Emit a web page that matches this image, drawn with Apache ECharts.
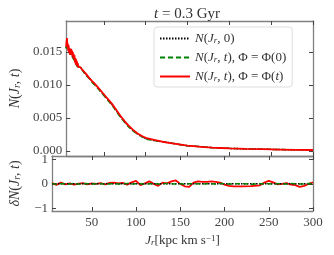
<!DOCTYPE html>
<html><head><meta charset="utf-8">
<script src="https://cdn.jsdelivr.net/npm/echarts@6/dist/echarts.min.js"></script>
<style>html,body{margin:0;padding:0;background:#fff}#c{width:334px;height:255px}</style>
</head><body><div id="c"></div>
<script>
// ---- data ----
const jTop = [5,5.5,6,6.5,7,7.5,8,8.5,9,9.5,10,10.5,11,11.5,12,12.5,13,13.5,14,14.5,15,15.5,16,16.5,17,17.5,18,18.5,19,19.5,20,
  21,22,23,24,25,26,28,30,33,36,40,44,48,52,56,60,65,70,75,80,85,90,95,100,110,120,130,140,150,160,170,180,190,200,220,240,260,280,300];
const nPhiT = [0.0158,0.0166,0.0171,0.0157,0.0163,0.0152,0.0160,0.0149,0.0156,0.0146,0.0153,0.0149,0.0155,0.0146,0.0152,0.0144,0.0150,0.0141,0.0147,0.0139,0.0145,0.0134,0.0141,0.0131,0.0139,0.0130,0.0136,0.0128,0.0133,0.0127,0.0130,
  0.0129,0.0127,0.0126,0.0124,0.0122,0.0121,0.0118,0.0115,0.0110,0.0106,0.0101,0.0095,0.0089,0.0083,0.0077,0.0071,0.0062,0.0053,0.0045,0.0038,0.0032,0.0027,0.0023,0.0020,0.0017,0.0014,0.0012,0.0010,0.0008,0.0007,0.0006,0.0005,0.00045,0.0004,0.00032,0.00027,0.00022,0.00018,0.00015];
const n0 = [0.0156,0.0160,0.0162,0.0158,0.0157,0.0154,0.0155,0.0151,0.0152,0.0148,0.0149,0.0147,0.0149,0.0145,0.0147,0.0143,0.0145,0.0141,0.0143,0.0139,0.0140,0.0136,0.0137,0.0133,0.0135,0.0131,0.0133,0.0129,0.0130,0.0128,0.0129,
  0.0128,0.0126,0.0125,0.0124,0.0122,0.0120,0.0117,0.0114,0.0110,0.0105,0.0100,0.0094,0.0088,0.0082,0.0076,0.0070,0.0061,0.0052,0.0044,0.0037,0.0031,0.0026,0.0022,0.0019,0.0016,0.0014,0.0012,0.0010,0.0008,0.0007,0.0006,0.0005,0.00045,0.0004,0.00032,0.00027,0.00022,0.00018,0.00015];
const nPhi0 = [0.0155,0.0159,0.0161,0.0157,0.0156,0.0153,0.0154,0.0150,0.0151,0.0147,0.0148,0.0146,0.0148,0.0144,0.0146,0.0142,0.0144,0.0140,0.0142,0.0138,0.0139,0.0135,0.0136,0.0132,0.0134,0.0130,0.0132,0.0128,0.0129,0.0127,0.0128,
  0.0127,0.0125,0.0124,0.0123,0.0121,0.0119,0.0116,0.0113,0.0109,0.0104,0.0099,0.0093,0.0087,0.0081,0.0075,0.0069,0.0060,0.0051,0.0043,0.0036,0.0030,0.0026,0.0022,0.0018,0.0016,0.0014,0.0012,0.0010,0.0008,0.0007,0.0006,0.0005,0.00045,0.0004,0.00032,0.00027,0.00022,0.00018,0.00015];
const jRes = [5,10,15,20,25,30,35,40,45,50,55,60,65,70,75,80,85,90,95,100,105,110,115,120,125,130,135,140,145,150,155,160,165,170,175,180,185,190,195,200,205,210,220,230,240,245,250,255,260,265,270,275,280,285,290,295,300];
const dPhiT = [0.03,-0.04,0.05,-0.02,0.02,-0.03,0.01,0.03,-0.02,0.02,0.0,0.03,-0.02,0.04,0.05,0.02,0.04,-0.03,0.06,0.12,-0.05,0.02,0.10,0.0,-0.08,0.05,0.02,0.10,0.14,0.0,-0.10,-0.12,0.05,0.10,0.08,0.08,0.10,0.08,0.05,-0.03,-0.08,-0.10,-0.10,-0.09,-0.06,0.05,0.12,0.06,-0.02,0.0,0.03,-0.03,-0.05,-0.12,-0.08,0.0,0.06];
const dPhi0 = [0.01,-0.02,0.01,0.0,-0.01,0.02,-0.01,0.0,0.01,-0.01,0.0,0.01,-0.02,0.0,0.01,-0.01,0.0,0.02,-0.01,0.0,0.01,-0.02,0.0,0.01,-0.01,0.0,0.02,0.0,-0.01,0.01,-0.02,0.0,0.01,0.0,-0.01,0.01,0.0,-0.01,0.02,0.0,-0.01,0.0,0.01,-0.02,0.0,0.01,0.0,-0.01,0.01,0.0,-0.01,0.02,0.0,-0.01,0.0,0.01,0.0];
const d0 = [0,0];
const d0J = [5,300];
const xTicks = [50,100,150,200,250,300];
const yTopTicks = [0,0.005,0.010,0.015];
const yBotTicks = [-1,0,1];
const titleText = '{it|t}{rm| = 0.3 Gyr}';
const names = ['N0','Phi0','PhiT'];
const legendTexts = {
  N0: '{it|N}{rm|(}{it|J}{sub|r}{rm|, 0)}',
  Phi0: '{it|N}{rm|(}{it|J}{sub|r}{rm|, }{it|t}{rm|), Φ = Φ(0)}',
  PhiT: '{it|N}{rm|(}{it|J}{sub|r}{rm|, }{it|t}{rm|), Φ = Φ(}{it|t}{rm|)}'
};

const zip = (a,b) => a.map((v,i)=>[v,b[i]]);
const FF = 'Liberation Serif';
const AX = '#808080';
const TC = '#333';
const rich = (fs) => ({
  it:{fontFamily:FF,fontStyle:'italic',fontWeight:'normal',fontSize:fs,color:TC},
  rm:{fontFamily:FF,fontWeight:'normal',fontSize:fs,color:TC},
  sub:{fontFamily:FF,fontStyle:'italic',fontWeight:'normal',fontSize:Math.round(fs*0.7),color:TC,verticalAlign:'bottom'},
  sup:{fontFamily:FF,fontWeight:'normal',fontSize:Math.round(fs*0.7),color:TC,verticalAlign:'top'}
});

function xAx(grid, pos, labels){
  return {type:'value',gridIndex:grid,position:pos,min:5,max:300,
    axisLine:{show:true,onZero:false,lineStyle:{color:AX,width:1.3}},
    axisTick:{show:true,inside:true,length:4,customValues:xTicks,lineStyle:{color:'#444'}},
    axisLabel:{show:labels,customValues:xTicks,fontFamily:FF,fontSize:13,color:'#444',margin:5},
    splitLine:{show:false}};
}
function yAx(grid,pos,min,max,ticks,labels,fmt){
  return {type:'value',gridIndex:grid,position:pos,min:min,max:max,
    axisLine:{show:true,onZero:false,lineStyle:{color:AX,width:1.3}},
    axisTick:{show:true,inside:true,length:4,customValues:ticks,lineStyle:{color:'#444'}},
    axisLabel:{show:labels,customValues:ticks,fontFamily:FF,fontSize:13,color:'#444',margin:4,formatter:fmt},
    splitLine:{show:false}};
}
const xA0 = xAx(0,'bottom',false), xA1 = xAx(0,'top',false), xA2 = xAx(1,'bottom',true), xA3 = xAx(1,'top',false);
xA2.name = '{it|J}{sub|r}{rm|[kpc km s}{sup|−1}{rm|]}';
xA2.nameLocation = 'middle'; xA2.nameGap = 23;
xA2.nameTextStyle = {rich:rich(13)};
const yA0 = yAx(0,'left',-0.00076,0.0197,yTopTicks,true,v=>v.toFixed(3));
yA0.name = '{it|N}{rm|(}{it|J}{sub|r}{rm|, }{it|t}{rm|)}';
yA0.nameLocation='middle'; yA0.nameRotate=90; yA0.nameGap=38; yA0.nameTextStyle={rich:rich(14)};
const yA1 = yAx(0,'right',-0.00076,0.0197,yTopTicks,false);
const yA2 = yAx(1,'left',-1.1,1.13,yBotTicks,true,v=>v<0?'−'+Math.abs(v):String(v));
yA2.name = '{it|δN}{rm|(}{it|J}{sub|r}{rm|, }{it|t}{rm|)}';
yA2.nameLocation='middle'; yA2.nameRotate=90; yA2.nameGap=30; yA2.nameTextStyle={rich:rich(14)};
const yA3 = yAx(1,'right',-1.1,1.13,yBotTicks,false);

const styles = {
  N0:{color:'#000',type:[1.5,1.5],width:1.5},
  Phi0:{color:'#008000',type:[5,3],width:1.5},
  PhiT:{color:'#ff0000',type:'solid',width:1.8}
};
function ser(name, x, y, xi, yi, z){
  return {name:name,type:'line',xAxisIndex:xi,yAxisIndex:yi,data:zip(x,y),symbol:'none',showSymbol:false,
    lineStyle:styles[name],itemStyle:{color:styles[name].color},z:z,animation:false};
}

const chart = echarts.init(document.getElementById('c'),null,{renderer:'canvas'});
chart.setOption({
  animation:false,
  title:{text:titleText,left:182,top:2,textAlign:'center',textStyle:{fontWeight:'normal',rich:rich(15)}},
  grid:[{left:52,top:21,width:261,height:135},{left:52,top:156,width:261,height:55}],
  xAxis:[xA0,xA1,xA2,xA3],
  yAxis:[yA0,yA1,yA2,yA3],
  legend:{data:names.map(n=>({name:n,itemStyle:{opacity:0}})),orient:'vertical',left:154,top:27,itemWidth:30,itemHeight:10,itemGap:6,
    padding:[5,6,4,5],borderColor:'#ddd',borderWidth:1,borderRadius:3,backgroundColor:'rgba(255,255,255,0.8)',
    itemStyle:{opacity:0},
    formatter:n=>legendTexts[n],textStyle:{rich:rich(13)},selectedMode:false},
  series:[
    ser('N0',jTop,n0,0,0,3), ser('Phi0',jTop,nPhi0,0,0,4), ser('PhiT',jTop,nPhiT,0,0,5),
    ser('N0',d0J,d0,2,2,6), ser('Phi0',jRes,dPhi0,2,2,7), ser('PhiT',jRes,dPhiT,2,2,5)
  ]
});
</script></body></html>
